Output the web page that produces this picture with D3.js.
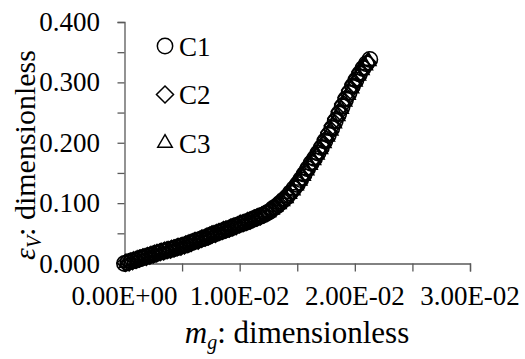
<!DOCTYPE html>
<html>
<head>
<meta charset="utf-8">
<script src="https://cdn.jsdelivr.net/npm/d3@7"></script>
<style>
  html, body { margin: 0; padding: 0; background: #fff; }
</style>
</head>
<body>
<div id="chart"></div>
<script>
// ε_V vs m_g for three cases

const c1_mg = [0.0000,0.0003,0.0006,0.0009,0.0012,0.0015,0.0018,0.0021,0.0024,0.0027,0.0030,0.0033,0.0036,0.0039,0.0042,0.0045,0.0048,0.0051,0.0054,0.0057,0.0060,0.0063,0.0066,0.0069,0.0072,0.0075,0.0078,0.0081,0.0084,0.0087,0.0090,0.0093,0.0096,0.0099,0.0102,0.0105,0.0108,0.0111,0.0114,0.0117,0.0120,0.0123,0.0126,0.0129,0.0132,0.0135,0.0138,0.0141,0.0144,0.0147,0.0150,0.0153,0.0156,0.0159,0.0162,0.0165,0.0168,0.0171,0.0174,0.0177,0.0180,0.0183,0.0186,0.0189,0.0192,0.0195,0.0198,0.0201,0.0204,0.0207,0.0210,0.0213];
const c1_ev = [0.000,0.002,0.004,0.005,0.007,0.009,0.011,0.013,0.014,0.016,0.018,0.020,0.021,0.023,0.024,0.026,0.028,0.030,0.031,0.034,0.036,0.038,0.040,0.042,0.044,0.047,0.049,0.051,0.053,0.055,0.057,0.059,0.062,0.064,0.066,0.068,0.070,0.073,0.075,0.078,0.080,0.083,0.086,0.091,0.095,0.100,0.105,0.110,0.117,0.124,0.131,0.139,0.148,0.157,0.166,0.174,0.183,0.192,0.203,0.213,0.224,0.236,0.248,0.260,0.272,0.283,0.294,0.304,0.314,0.323,0.331,0.338];

const c2_mg = [0.0001,0.0004,0.0007,0.0010,0.0013,0.0016,0.0019,0.0022,0.0025,0.0028,0.0031,0.0034,0.0037,0.0040,0.0043,0.0046,0.0049,0.0052,0.0055,0.0058,0.0061,0.0064,0.0067,0.0070,0.0073,0.0076,0.0079,0.0082,0.0085,0.0088,0.0091,0.0094,0.0097,0.0100,0.0103,0.0106,0.0109,0.0112,0.0115,0.0118,0.0121,0.0124,0.0127,0.0130,0.0133,0.0136,0.0139,0.0142,0.0145,0.0148,0.0151,0.0154,0.0157,0.0160,0.0163,0.0166,0.0169,0.0172,0.0175,0.0178,0.0181,0.0184,0.0187,0.0190,0.0193,0.0196,0.0199,0.0202,0.0205,0.0208,0.0211];
const c2_ev = [0.001,0.002,0.004,0.006,0.008,0.010,0.011,0.013,0.015,0.017,0.019,0.020,0.022,0.023,0.025,0.027,0.028,0.030,0.032,0.034,0.037,0.038,0.041,0.043,0.045,0.048,0.049,0.052,0.054,0.056,0.058,0.060,0.062,0.065,0.067,0.069,0.071,0.074,0.076,0.078,0.081,0.084,0.088,0.092,0.097,0.102,0.106,0.112,0.119,0.126,0.134,0.142,0.151,0.160,0.168,0.177,0.186,0.196,0.206,0.217,0.228,0.240,0.252,0.264,0.275,0.287,0.297,0.307,0.317,0.325,0.333];

const c3_mg = [0.0002,0.0005,0.0008,0.0011,0.0014,0.0017,0.0020,0.0023,0.0026,0.0029,0.0032,0.0035,0.0038,0.0041,0.0044,0.0047,0.0050,0.0053,0.0056,0.0059,0.0062,0.0065,0.0068,0.0071,0.0074,0.0077,0.0080,0.0083,0.0086,0.0089,0.0092,0.0095,0.0098,0.0101,0.0104,0.0107,0.0110,0.0113,0.0116,0.0119,0.0122,0.0125,0.0128,0.0131,0.0134,0.0137,0.0140,0.0143,0.0146,0.0149,0.0152,0.0155,0.0158,0.0161,0.0164,0.0167,0.0170,0.0173,0.0176,0.0179,0.0182,0.0185,0.0188,0.0191,0.0194,0.0197,0.0200,0.0203,0.0206,0.0209,0.0212];
const c3_ev = [0.001,0.003,0.005,0.007,0.008,0.010,0.012,0.014,0.016,0.017,0.019,0.021,0.022,0.024,0.025,0.027,0.029,0.031,0.033,0.035,0.037,0.039,0.041,0.044,0.046,0.048,0.050,0.052,0.055,0.056,0.059,0.061,0.063,0.066,0.067,0.070,0.072,0.074,0.077,0.079,0.082,0.085,0.089,0.094,0.098,0.103,0.108,0.115,0.121,0.129,0.137,0.145,0.154,0.163,0.171,0.180,0.189,0.199,0.210,0.220,0.232,0.244,0.256,0.268,0.279,0.290,0.301,0.311,0.320,0.328,0.335];

const seriesNames = ['C1', 'C2', 'C3'];
const xTicks = [0, 0.01, 0.02, 0.03];
const xTickLabels = ['0.00E+00', '1.00E-02', '2.00E-02', '3.00E-02'];
const yTicks = [0, 0.1, 0.2, 0.3, 0.4];
const yTickLabels = ['0.000', '0.100', '0.200', '0.300', '0.400'];

const FONT = '"Liberation Serif", "Times New Roman", serif';
const W = 525, H = 359;
const svg = d3.select('#chart').append('svg').attr('width', W).attr('height', H)
  .style('font-family', FONT);

const x = d3.scaleLinear().domain([0, 0.03]).range([124.5, 470]);
const y = d3.scaleLinear().domain([0, 0.4]).range([263.5, 22]);

// open black markers
const symbolFor = {
  C1: d3.symbol().type(d3.symbolCircle).size(185),
  C2: d3.symbol().type(d3.symbolDiamond2).size(185),
  C3: d3.symbol().type(d3.symbolTriangle2).size(150)
};

// axes: ticks only, labels drawn separately
const xAxis = d3.axisBottom(x).tickValues(d3.range(0, 0.0301, 0.005)).tickSize(8).tickFormat('');
const yAxis = d3.axisLeft(y).tickValues(d3.range(0, 0.401, 0.05)).tickSize(7).tickFormat('');

const gx = svg.append('g').attr('transform', `translate(0,${y(0)})`).call(xAxis);
const gy = svg.append('g').attr('transform', `translate(${x(0)},0)`).call(yAxis);
[gx, gy].forEach(g => {
  g.select('.domain').attr('stroke', '#595959').attr('stroke-width', 1.3);
  g.selectAll('.tick line').attr('stroke', '#595959').attr('stroke-width', 1.3);
});

// tick labels
svg.append('g').selectAll('text').data(xTicks).join('text')
  .attr('x', d => x(d)).attr('y', 305)
  .attr('text-anchor', 'middle').style('font-family', FONT).style('font-size', '27px')
  .text((d, i) => xTickLabels[i]);

svg.append('g').selectAll('text').data(yTicks).join('text')
  .attr('x', 100).attr('y', d => y(d) + 9)
  .attr('text-anchor', 'end').style('font-family', FONT).style('font-size', '27px')
  .text((d, i) => yTickLabels[i]);

// axis titles
const xt = svg.append('text').attr('x', 297).attr('y', 343)
  .attr('text-anchor', 'middle').style('font-family', FONT).style('font-size', '31px');
xt.append('tspan').style('font-style', 'italic').text('m');
xt.append('tspan').style('font-style', 'italic').style('font-size', '20px').attr('dy', 6).text('g');
xt.append('tspan').attr('dy', -6).text(': dimensionless');

const yt = svg.append('text').attr('transform', 'translate(35,155) rotate(-90)')
  .attr('text-anchor', 'middle').style('font-family', FONT).style('font-size', '30px');
yt.append('tspan').style('font-style', 'italic').text('ε');
yt.append('tspan').style('font-style', 'italic').style('font-size', '20px').attr('dy', 6).text('V');
yt.append('tspan').attr('dy', -6).text(': dimensionless');

// data markers
const series = [
  { name: 'C1', mg: c1_mg, ev: c1_ev },
  { name: 'C2', mg: c2_mg, ev: c2_ev },
  { name: 'C3', mg: c3_mg, ev: c3_ev }
];

series.forEach(s => {
  svg.append('g').selectAll('path').data(s.mg.map((m, i) => [m, s.ev[i]])).join('path')
    .attr('d', symbolFor[s.name])
    .attr('transform', d => `translate(${x(d[0])},${y(d[1])})`)
    .attr('fill', 'none').attr('stroke', '#000').attr('stroke-width', 1.6);
});

// legend
const legend = svg.append('g').selectAll('g').data(seriesNames).join('g')
  .attr('transform', (d, i) => `translate(165,${46 + i * 48.5})`);
legend.append('path').attr('d', d => symbolFor[d]())
  .attr('fill', 'none').attr('stroke', '#000').attr('stroke-width', 1.5);
legend.append('text').attr('x', 14).attr('y', 9.5)
  .style('font-family', FONT).style('font-size', '27px').text(d => d);
</script>
</body>
</html>
